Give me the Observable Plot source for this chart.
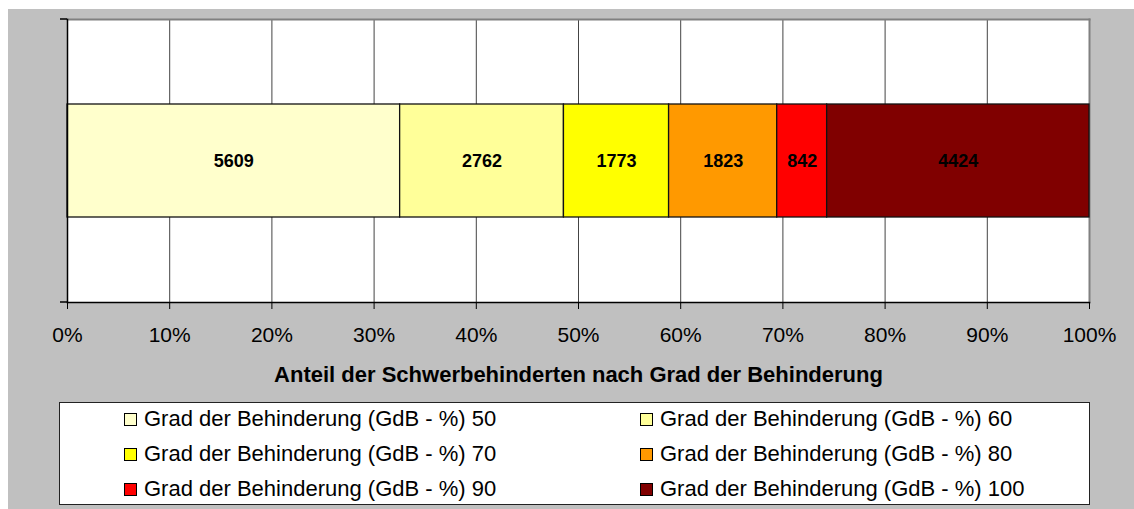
<!DOCTYPE html>
<html>
<head>
<meta charset="utf-8">
<script src="https://cdn.jsdelivr.net/npm/d3@7"></script>
<script src="https://cdn.jsdelivr.net/npm/@observablehq/plot@0.6"></script>
<style>
  html, body { margin: 0; padding: 0; background: #fff; }
  #wrap { position: relative; width: 1134px; height: 509px; overflow: hidden; font-family: "Liberation Sans", Arial, sans-serif; }
  #bg { position: absolute; left: 8px; top: 9px; width: 1126px; height: 500px; background: #c0c0c0; }
  #chart { position: absolute; left: 0; top: 0; }
  #legend { position: absolute; left: 59px; top: 402px; width: 1029px; height: 101px; background: #fff; border: 1px solid #222; }
  .item { position: absolute; display: flex; align-items: center; font-size: 22px; color: #000; white-space: nowrap; }
  .sw { width: 11px; height: 11px; border: 1px solid #000; margin-right: 7px; }
</style>
</head>
<body>
<div id="wrap">
  <div id="bg"></div>
  <div id="chart"></div>
  <div id="legend"></div>
</div>
<script>
const grades = ["Grad der Behinderung (GdB - %) 50", "Grad der Behinderung (GdB - %) 60", "Grad der Behinderung (GdB - %) 70", "Grad der Behinderung (GdB - %) 80", "Grad der Behinderung (GdB - %) 90", "Grad der Behinderung (GdB - %) 100"];
const counts = [5609, 2762, 1773, 1823, 842, 4424];
const colors = ["#FFFFCC", "#FFFF99", "#FFFF00", "#FF9900", "#FF0000", "#800000"];
const xTicks = [0, 0.1, 0.2, 0.3, 0.4, 0.5, 0.6, 0.7, 0.8, 0.9, 1.0];
const axisTitle = "Anteil der Schwerbehinderten nach Grad der Behinderung";
const category = "Schwerbehinderte";

const data = grades.map((g, i) => ({grade: g, value: counts[i], cat: category}));

const W = 1134, H = 390, mL = 67, mR = 45, mT = 19, mB = 88;

const chart = Plot.plot({
  width: W, height: H,
  marginLeft: mL, marginRight: mR, marginTop: mT, marginBottom: mB,
  style: {background: "transparent", fontFamily: "Liberation Sans, Arial, sans-serif", overflow: "visible"},
  x: {domain: [0, 1]},
  y: {domain: [category], paddingInner: 0, paddingOuter: 0.752, axis: null},
  color: {domain: grades, range: colors},
  marks: [
    Plot.frame({fill: "#fff", stroke: "none"}),
    Plot.ruleX(xTicks, {stroke: "#444", strokeWidth: 1}),
    Plot.frame({anchor: "top", stroke: "#808080", strokeWidth: 2}),
    Plot.frame({anchor: "right", stroke: "#808080", strokeWidth: 2}),
    Plot.barX(data, Plot.stackX({x: "value", y: "cat", fill: "grade", offset: "normalize", order: null, stroke: "#111", strokeWidth: 1.3, inset: 0})),
    Plot.text(data, Plot.stackX({x: "value", y: "cat", text: d => String(d.value), offset: "normalize", order: null, fontSize: 18, fontWeight: "bold", fill: "#000"})),
    Plot.axisX({ticks: xTicks, tickFormat: d3.format(".0%"), tickSize: 7, tickPadding: 18, fontSize: 21, stroke: "#000", fill: "#000",
      label: axisTitle, labelAnchor: "center", labelArrow: "none", labelOffset: 0}),
    Plot.frame({anchor: "left", stroke: "#000", strokeWidth: 1.5}),
    Plot.frame({anchor: "bottom", stroke: "#000", strokeWidth: 1.5})
  ]
});
document.getElementById("chart").appendChild(chart);

// style the axis title (bold, positioned below tick labels)
const svg = d3.select(chart);
svg.selectAll("g[aria-label='x-axis label'] text")
  .attr("font-weight", "bold").attr("font-size", 22)
  .attr("transform", `translate(${(mL + W - mR) / 2},${H - mB + 72})`)
  .attr("dy", "0.35em");
// small left tick marks at top and bottom of value axis
[mT, H - mB].forEach(yy => {
  svg.append("line").attr("x1", mL - 7).attr("x2", mL).attr("y1", yy).attr("y2", yy).attr("stroke", "#000").attr("stroke-width", 1.5);
});

// legend
const leg = document.getElementById("legend");
grades.forEach((g, i) => {
  const col = i % 2, row = Math.floor(i / 2);
  const el = document.createElement("div");
  el.className = "item";
  el.style.left = (col === 0 ? 64 : 580) + "px";
  el.style.top = (3 + row * 35) + "px";
  el.style.height = "26px";
  el.innerHTML = `<span class="sw" style="background:${colors[i]}"></span><span>${g}</span>`;
  leg.appendChild(el);
});
</script>
</body>
</html>
